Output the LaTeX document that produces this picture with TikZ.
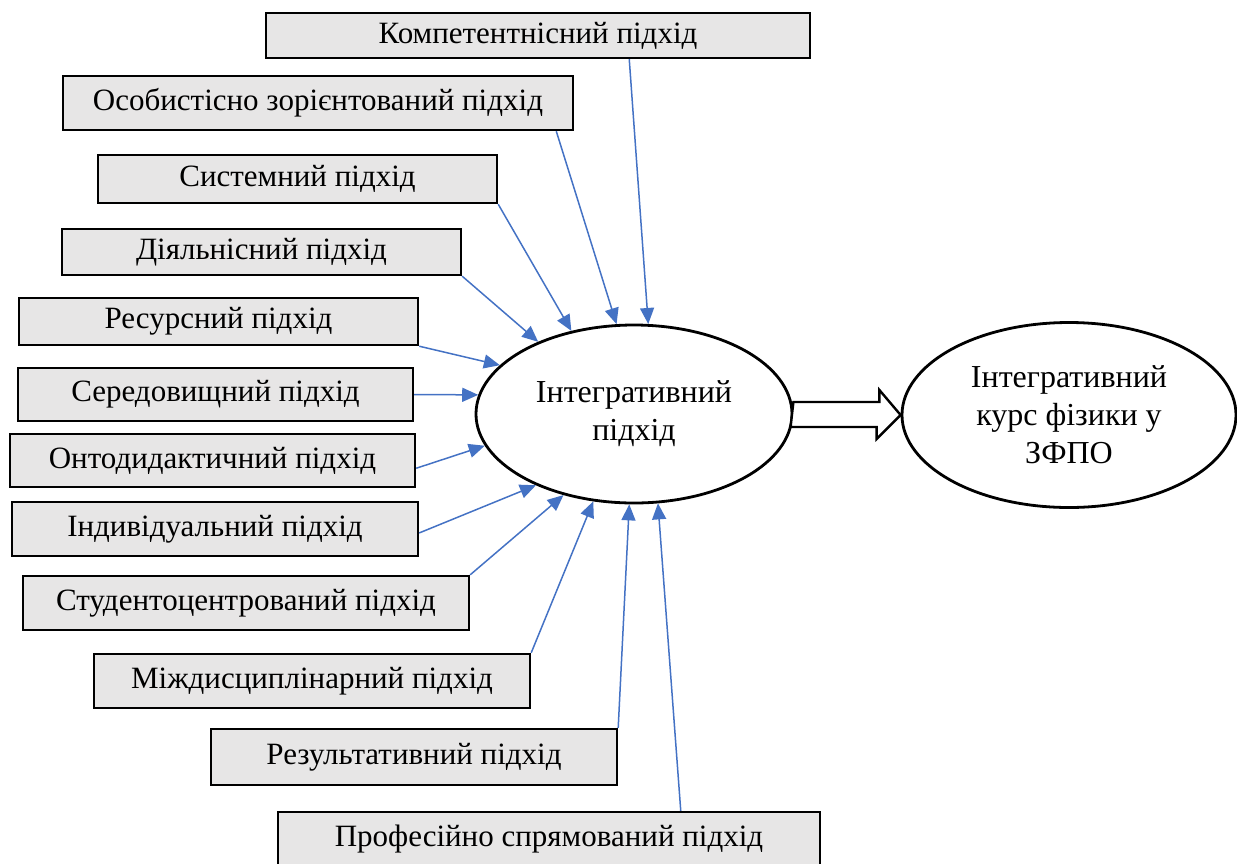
\documentclass[tikz,border=0pt]{standalone}
\usepackage{fontspec}
\setmainfont{Liberation Serif}
\usetikzlibrary{arrows.meta,shapes.geometric,positioning,calc}
\definecolor{boxgray}{RGB}{231,230,230}
\definecolor{linkblue}{RGB}{68,114,196}

\begin{document}
\begin{tikzpicture}[x=0.5pt,y=-0.5pt,
  pidkhid/.style={draw,line width=1.2pt,fill=boxgray,inner sep=0pt,font=\fontsize{15.5}{18}\selectfont},
  oval/.style={draw,ellipse,line width=1.4pt,inner sep=0pt,align=center,font=\fontsize{16}{19}\selectfont},
  link/.style={linkblue,line width=0.75pt,-{Triangle[length=8pt,width=7pt]}},
  fatarrow/.style={draw=black,line width=1.2pt,fill=white}]
\useasboundingbox (0,0) rectangle (1237,863);
% approaches
\node[pidkhid,minimum width=272pt,minimum height=22.5pt] (komp) at (538,35.5) {Компетентнісний підхід};
\node[pidkhid,minimum width=255pt,minimum height=27pt] (osob) at (318,103) {Особистісно зорієнтований підхід};
\node[pidkhid,minimum width=199.5pt,minimum height=24pt] (syst) at (297.5,179) {Системний підхід};
\node[pidkhid,minimum width=199.5pt,minimum height=23pt] (diyal) at (261.5,252) {Діяльнісний підхід};
\node[pidkhid,minimum width=199.5pt,minimum height=23.5pt] (resurs) at (218.5,321.5) {Ресурсний підхід};
\node[pidkhid,minimum width=197.5pt,minimum height=26.5pt] (sered) at (215.5,394.5) {Середовищний підхід};
\node[pidkhid,minimum width=202.5pt,minimum height=26.5pt] (onto) at (212.5,460.5) {Онтодидактичний підхід};
\node[pidkhid,minimum width=203pt,minimum height=27pt] (indyv) at (215,529) {Індивідуальний підхід};
\node[pidkhid,minimum width=223pt,minimum height=27pt] (stud) at (246,603) {Студентоцентрований підхід};
\node[pidkhid,minimum width=218pt,minimum height=27pt] (mizh) at (312,681) {Міждисциплінарний підхід};
\node[pidkhid,minimum width=203pt,minimum height=28pt] (rezult) at (414,757) {Результативний підхід};
\node[pidkhid,minimum width=271pt,minimum height=27pt] (prof) at (549,839) {Професійно спрямований підхід};

% centre and result
\node[oval,minimum width=158pt,minimum height=89pt] (integr) at (634,414) {Інтегративний\\підхід};
\node[oval,minimum width=167pt,minimum height=92.5pt] (kurs) at (1069,415) {Інтегративний\\курс фізики у\\ЗФПО};

% links
\draw[link] ($(komp.south west)!.667!(komp.south east)$) -- (integr.81);
\draw[link] ($(osob.south west)!.965!(osob.south east)$) -- (integr.101);
\draw[link] (syst.south east) -- (integr.127);
\draw[link] (diyal.south east) -- (integr.143);
\draw[link] (resurs.south east) -- (integr.160);
\draw[link] (sered.east) -- (integr.173);
\draw[link] ($(onto.north east)!.64!(onto.south east)$) -- (integr.192);
\draw[link] ($(indyv.north east)!.57!(indyv.south east)$) -- (integr.216);
\draw[link] (stud.north east) -- (integr.229);
\draw[link] (mizh.north east) -- (integr.245);
\draw[link] (rezult.north east) -- (integr.267);
\draw[link] ($(prof.north west)!.742!(prof.north east)$) -- (integr.285);

\draw[fatarrow] (integr.east) ++(0,-12) -- ++(86,0) -- ++(0,-12) -- (kurs.west)
  -- ++(-24,24) -- ++(0,-12) -- ++(-86,0) -- cycle;
\end{tikzpicture}
\end{document}
